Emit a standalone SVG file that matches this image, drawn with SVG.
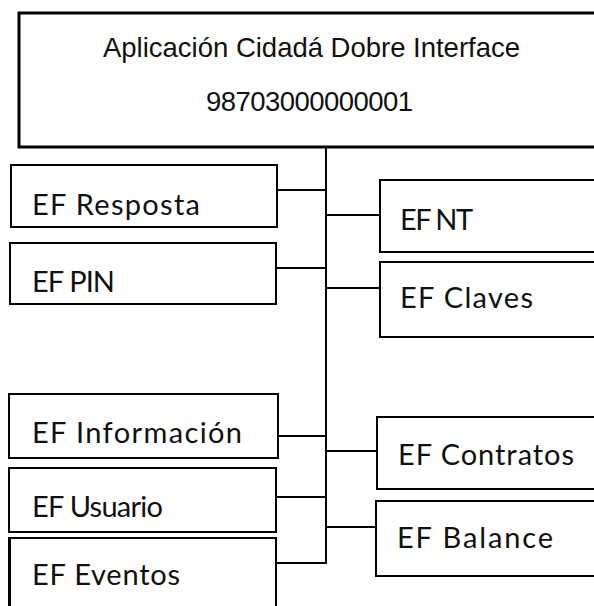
<svg xmlns="http://www.w3.org/2000/svg" width="594" height="606" viewBox="0 0 594 606">
<style>
.box{fill:#fff;stroke:#000;stroke-width:2}
.top{fill:#fff;stroke:#000;stroke-width:3}
.lbl{font-family:Lato,"Liberation Sans",sans-serif;font-size:29px;fill:#111}
.ttl{font-family:"Liberation Sans",Arial,sans-serif;font-size:27.5px;fill:#111}
.con{stroke:#000;stroke-width:2;fill:none}
</style>
<rect width="594" height="606" fill="#fff"/>
<g id="connectors">
<line class="con" x1="326" y1="147" x2="326" y2="564"/>
<line class="con" x1="277" y1="190" x2="326" y2="190"/>
<line class="con" x1="277" y1="268" x2="326" y2="268"/>
<line class="con" x1="278" y1="436" x2="326" y2="436"/>
<line class="con" x1="276" y1="497" x2="326" y2="497"/>
<line class="con" x1="276" y1="563" x2="327" y2="563"/>
<line class="con" x1="326" y1="215" x2="380" y2="215"/>
<line class="con" x1="326" y1="288" x2="380" y2="288"/>
<line class="con" x1="326" y1="451" x2="377" y2="451"/>
<line class="con" x1="326" y1="527" x2="376" y2="527"/>
</g>
<g id="root">
<rect class="top" x="19" y="13" width="590" height="134"/>
<text class="ttl" x="103" y="57" textLength="417">Aplicación Cidadá Dobre Interface</text>
<text class="ttl" x="206" y="111" font-size="26.8" textLength="207">98703000000001</text>
</g>
<g id="ef-resposta">
<rect class="box" x="11" y="165" width="266" height="62"/>
<text class="lbl" x="32" y="215" textLength="168">EF Resposta</text>
</g>
<g id="ef-pin">
<rect class="box" x="10" y="243" width="266" height="61"/>
<text class="lbl" x="32" y="292" textLength="83">EF PIN</text>
</g>
<g id="ef-informacion">
<rect class="box" x="9" y="394" width="269" height="64"/>
<text class="lbl" x="32" y="443" textLength="210">EF Información</text>
</g>
<g id="ef-usuario">
<rect class="box" x="9" y="468" width="267" height="64"/>
<text class="lbl" x="32" y="517" textLength="131">EF Usuario</text>
</g>
<g id="ef-eventos">
<rect class="box" x="9" y="538" width="267" height="80"/>
<line x1="9.5" y1="538" x2="9.5" y2="606" stroke="#000" stroke-width="3"/>
<text class="lbl" x="32" y="585" textLength="148">EF Eventos</text>
</g>
<g id="ef-nt">
<rect class="box" x="380" y="180" width="230" height="72"/>
<text class="lbl" x="400" y="230" textLength="73">EF NT</text>
</g>
<g id="ef-claves">
<rect class="box" x="380" y="262" width="230" height="75"/>
<text class="lbl" x="400" y="308" textLength="133">EF Claves</text>
</g>
<g id="ef-contratos">
<rect class="box" x="377" y="417" width="230" height="72"/>
<text class="lbl" x="398" y="465" textLength="176">EF Contratos</text>
</g>
<g id="ef-balance">
<rect class="box" x="376" y="501" width="230" height="75"/>
<text class="lbl" x="397" y="548" textLength="156">EF Balance</text>
</g>
</svg>
